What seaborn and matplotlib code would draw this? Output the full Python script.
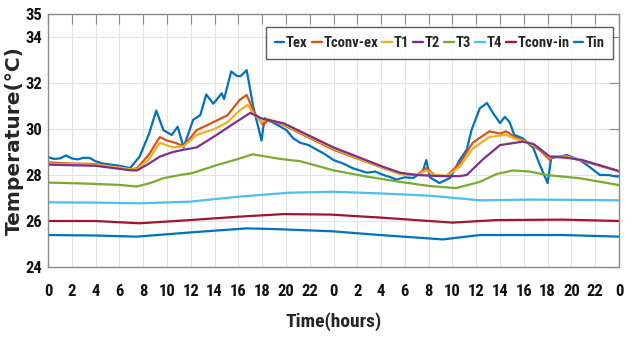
import os
import numpy as np
import pandas as pd
import matplotlib
matplotlib.use("Agg")
import matplotlib.pyplot as plt
from matplotlib import font_manager as fm
import seaborn as sns

# ---------------- data (hours, °C) ----------------
t_tex = [0, 0.5, 1, 1.5, 2, 2.5, 3, 3.5, 4, 4.6, 5.3, 6, 6.9, 7.7, 8.5, 9.1, 9.7, 10.4, 10.9, 11.4,
         12.2, 12.8, 13.3, 13.9, 14.6, 14.8, 15.4, 15.9, 16.2, 16.7, 17.0, 17.25, 17.95, 18.2, 19.2,
         20.05, 20.6, 21.2, 21.9, 22.6, 23.3, 24.0, 24.8, 25.6, 26.2, 26.8, 27.5, 28.2, 28.8, 29.3,
         30.0, 30.7, 31.5, 31.8, 32.1, 32.9, 33.8, 34.6, 35.2, 35.6, 36.3, 36.9, 37.4, 38.0, 38.4,
         38.8, 39.2, 39.9, 40.8, 41.3, 42.0, 42.3, 43.0, 43.6, 44.2, 44.7, 45.5, 46.4, 47.1, 47.8, 48]
tex = [28.78, 28.7, 28.72, 28.85, 28.72, 28.68, 28.75, 28.74, 28.6, 28.5, 28.45, 28.4, 28.3, 28.8,
       29.8, 30.8, 29.95, 29.74, 30.1, 29.2, 30.4, 30.6, 31.5, 31.1, 31.55, 31.3, 32.5, 32.3, 32.3,
       32.56, 31.7, 30.97, 29.5, 30.47, 30.2, 29.95, 29.6, 29.4, 29.3, 29.1, 28.9, 28.65, 28.5, 28.3,
       28.2, 28.1, 28.15, 28.0, 27.9, 27.8, 27.9, 27.87, 28.15, 28.65, 27.9, 27.65, 27.87, 28.65,
       29.1, 29.95, 30.9, 31.13, 30.7, 30.26, 30.53, 30.3, 29.74, 29.6, 29.17, 28.5, 27.65, 28.74,
       28.8, 28.87, 28.75, 28.65, 28.36, 28.0, 28.0, 27.93, 27.95]

t_cex = [0, 2, 4, 5, 6, 7, 7.5, 8.5, 9.4, 10.0, 10.7, 11.4, 12.5, 13.9, 15.1, 16.1, 16.7, 17.3, 18.1,
         18.5, 19.8, 24, 28.2, 29.6, 31.0, 31.8, 32.5, 33.5, 34.6, 35.7, 37.1, 38.0, 38.5, 39.4, 40.2,
         41.3, 42.2, 42.4, 43.6, 45, 47.8, 48]
tconv_ex = [28.55, 28.5, 28.48, 28.4, 28.33, 28.25, 28.3, 28.9, 29.65, 29.5, 29.4, 29.25, 29.95, 30.3,
            30.6, 31.26, 31.48, 30.75, 30.17, 30.4, 30.17, 29.1, 28.3, 28.05, 28.0, 28.3, 28.0, 27.95,
            28.5, 29.4, 29.9, 29.8, 29.9, 29.6, 29.45, 29.1, 28.65, 28.8, 28.8, 28.6, 28.2, 28.15]

t_t1 = [0, 4, 7, 7.5, 8.5, 9.4, 10.5, 11.4, 12.5, 14, 15.1, 16.1, 16.8, 17.3, 18, 18.4, 19.8, 24,
        28.2, 29.6, 31, 31.8, 32.5, 33.5, 34.6, 35.7, 37.1, 38.5, 39.4, 40.2, 41.3, 42.2, 42.4, 43.6,
        45, 47.8, 48]
t1 = [28.5, 28.45, 28.25, 28.25, 28.7, 29.4, 29.2, 29.25, 29.74, 30.0, 30.3, 30.8, 31.05, 30.65, 30.3,
      30.45, 30.2, 29.15, 28.3, 28.05, 28.0, 28.2, 28.0, 27.95, 28.35, 29.15, 29.65, 29.75, 29.55,
      29.45, 29.15, 28.75, 28.8, 28.8, 28.62, 28.2, 28.15]

t_t2 = [0, 4, 7, 7.5, 8.5, 9.4, 10.5, 11.4, 12.5, 14.2, 15.5, 17, 18, 19.8, 24, 28.2, 29.6, 31, 33,
        34.6, 35.2, 36.6, 38, 39.9, 40.8, 42.2, 43.6, 44.9, 47.8, 48]
t2 = [28.45, 28.4, 28.2, 28.2, 28.5, 28.8, 29.0, 29.1, 29.2, 29.75, 30.2, 30.7, 30.45, 30.25, 29.2,
      28.35, 28.1, 28.0, 27.95, 27.95, 28.0, 28.7, 29.3, 29.45, 29.35, 28.8, 28.75, 28.65, 28.2, 28.15]

t_t3 = [0, 3, 6, 7.45, 8.6, 9.7, 11.1, 12.1, 14.2, 16, 17.2, 19.5, 21.2, 22.9, 24, 26.8, 29.6, 32.1,
        34.3, 36.3, 37.7, 39.1, 40.5, 41.9, 44.7, 47.9, 48]
t3 = [27.67, 27.63, 27.57, 27.5, 27.65, 27.86, 28.0, 28.08, 28.43, 28.7, 28.9, 28.7, 28.6, 28.36, 28.2,
      27.93, 27.7, 27.52, 27.43, 27.7, 28.04, 28.2, 28.15, 28.0, 27.86, 27.57, 27.55]

t_t4 = [0, 4, 7.7, 11.9, 16.1, 20.3, 24, 27.9, 32.1, 36.3, 40.5, 44, 48]
t4 = [26.81, 26.8, 26.77, 26.84, 27.06, 27.23, 27.27, 27.2, 27.1, 26.9, 26.93, 26.92, 26.9]

t_cin = [0, 4, 7.7, 11.9, 16.1, 19.8, 23.7, 27.9, 34.0, 37.7, 43.3, 48]
tconv_in = [26.0, 26.0, 25.9, 26.04, 26.19, 26.3, 26.28, 26.15, 25.93, 26.04, 26.06, 26.0]

t_tin = [0, 4, 7.45, 11.9, 16.7, 19, 24, 27.9, 33.2, 36.3, 43.3, 48]
tin = [25.39, 25.37, 25.32, 25.5, 25.68, 25.65, 25.55, 25.39, 25.2, 25.39, 25.39, 25.32]

series_names = ["Tex", "Tconv-ex", "T1", "T2", "T3", "T4", "Tconv-in", "Tin"]
colors = ["#0072BD", "#D95319", "#EDB120", "#7E2F8E", "#77AC30", "#4DBEEE", "#A2142F", "#0072BD"]
x_ticks = list(range(0, 49, 2))
x_ticklabels = [str(h % 24) for h in x_ticks]
y_ticks = [24, 26, 28, 30, 32, 34, 35]

series = [(t_tex, tex), (t_cex, tconv_ex), (t_t1, t1), (t_t2, t2), (t_t3, t3), (t_t4, t4),
          (t_cin, tconv_in), (t_tin, tin)]
frames = []
for name, (tt, vv) in zip(series_names, series):
    frames.append(pd.DataFrame({"time": tt, "temp": vv, "series": name}))
df = pd.concat(frames, ignore_index=True)

# ---------------- fonts: look for a condensed bold face ----------------
def find_condensed_bold():
    prefs = ["liberationsansnarrow-bold.", "robotocondensed-bold.", "notosans-condensedbold.",
             "dejavusanscondensed-bold.", "opensans-condensedbold.", "opensans_condensed-bold.",
             "lato-condensedbold."]
    files = [f.fname for f in fm.fontManager.ttflist]
    low = {os.path.basename(p).lower(): p for p in files}
    for pref in prefs:
        for base, p in low.items():
            if base.startswith(pref):
                return p
    for base, p in low.items():
        if ("condensed" in base or "narrow" in base) and "bold" in base and "semi" not in base \
                and "extra" not in base and "italic" not in base and "oblique" not in base:
            return p
    return None

cond_path = find_condensed_bold()
if cond_path:
    def fp(size):
        return fm.FontProperties(fname=cond_path, size=size)
    tick_size, leg_size, xl_size = 12, 10.5, 14
else:
    def fp(size):
        return fm.FontProperties(family=["Liberation Sans", "DejaVu Sans"], weight="bold", size=size)
    tick_size, leg_size, xl_size = 11, 9, 13

# ---------------- plot ----------------
sns.set_style("white")

fig = plt.figure(figsize=(6.33, 3.43), dpi=100)
ax = fig.add_axes([48 / 633, 1 - 267 / 343, (619 - 48) / 633, (267 - 14) / 343])

sns.lineplot(data=df, x="time", y="temp", hue="series", hue_order=series_names,
             palette=colors, estimator=None, sort=False, linewidth=1.6, ax=ax)

ax.set_xlim(0, 48)
ax.set_ylim(24, 35)
ax.set_xticks(x_ticks)
ax.set_xticklabels(x_ticklabels)
ax.set_yticks(y_ticks)
ax.grid(True, color="#e3e3e3", linewidth=0.8)
ax.set_axisbelow(True)
for s in ax.spines.values():
    s.set_visible(True)
    s.set_color("#8a8a8a")
    s.set_linewidth(1.0)
ax.tick_params(direction="in", length=7, width=0.8, color="#8a8a8a", top=True, right=True)
ax.tick_params(axis="x", pad=12)
ax.tick_params(axis="y", pad=4)
for lab in ax.get_xticklabels() + ax.get_yticklabels():
    lab.set_fontproperties(fp(tick_size))
    lab.set_color("#111111")

ax.set_xlabel("Time(hours)", fontproperties=fp(xl_size), labelpad=10)
ax.set_ylabel("Temperature(°C)", fontsize=14.5, fontweight="bold", family="DejaVu Sans")
ax.yaxis.set_label_coords(-0.042, 0.5)

leg = ax.legend(loc="upper right", bbox_to_anchor=(1 - 6 / 571, 1 - 13 / 253), ncol=8,
                frameon=True, fancybox=False, handlelength=0.65, handletextpad=0.12,
                columnspacing=0.3, borderpad=0.6, borderaxespad=0, prop=fp(leg_size))
leg.get_frame().set_edgecolor("#333333")
leg.get_frame().set_linewidth(1.0)
for line in leg.get_lines():
    line.set_linewidth(1.7)

fig.savefig("out.png", dpi=100)
